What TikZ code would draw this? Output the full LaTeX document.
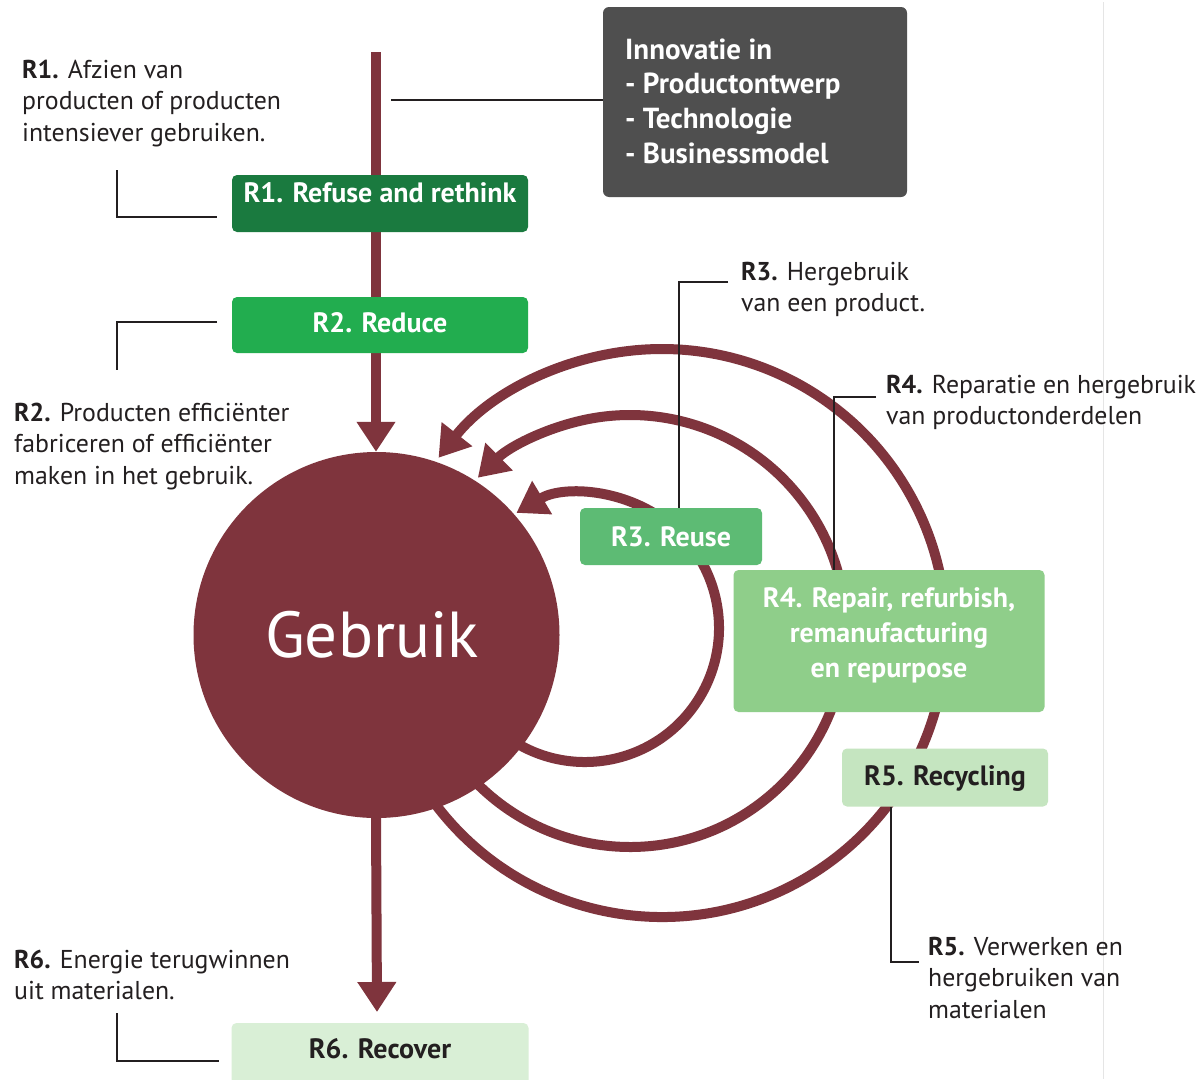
\documentclass[tikz,border=0pt]{standalone}
\usepackage{fontspec}
\setmainfont{PT Sans}
\usetikzlibrary{arrows.meta}
\definecolor{maroonc}{RGB}{127,52,61}
\definecolor{rA}{RGB}{26,122,63}
\definecolor{rB}{RGB}{34,173,79}
\definecolor{rC}{RGB}{93,187,116}
\definecolor{rD}{RGB}{143,206,138}
\definecolor{rE}{RGB}{197,229,192}
\definecolor{rF}{RGB}{217,239,214}
\definecolor{innc}{RGB}{79,79,79}
\definecolor{inkc}{RGB}{35,31,32}
\begin{document}
\begin{tikzpicture}[x=1pt,y=-1pt,
  flow/.style={line width=10pt, draw=maroonc, -{Triangle[length=30pt,width=37pt]}},
  rboxbase/.style={rounded corners=5pt, inner sep=0pt, text=white,
    font=\fontsize{28}{35}\selectfont\bfseries},
  rbox/.style={rboxbase, text height=18pt, text depth=6pt},
  lead/.style={draw=inkc, line width=1.3pt},
  desc/.style={anchor=base west, inner sep=0pt, text=inkc,
    font=\fontsize{25.8}{31.5}\selectfont}]
\useasboundingbox (0,0) rectangle (1201,1079);
\fill[white] (0,0) rectangle (1201,1079);
\draw[gray!20, line width=1pt] (1103,2) -- (1103,1079);

% arcs (centres)
\coordinate (c3) at (585,628);
\coordinate (c4) at (630,631);
\coordinate (c5) at (662,633);
\draw[flow] (c3) ++(125:134) arc[start angle=125, end angle=-120.8, radius=134];
\draw[flow] (c4) ++(140:216) arc[start angle=140, end angle=-134.8, radius=216];
\draw[flow] (c5) ++(147:284) arc[start angle=147, end angle=-141.9, radius=284];

% central circle
\node[circle, fill=maroonc, minimum size=366pt, inner sep=0pt, text=white,
  font=\fontsize{65}{65}\selectfont] (geb) at (376.5,635) {Gebruik\rule{9pt}{0pt}};

% main flow
\coordinate (top) at (376,52);
\coordinate (bot) at (377,1012);
\draw[flow] (top) -- (top |- geb.north);
\draw[flow] (top |- geb.south) -- (bot);

% boxes
\node[rbox, fill=rA, minimum width=296pt, minimum height=57pt, text depth=21pt] (r1) at (380,203.5) {R1. Refuse and rethink};
\node[rbox, fill=rB, minimum width=296pt, minimum height=56pt, text depth=4pt] (r2) at (380,325) {R2. Reduce};
\node[rbox, fill=rC, minimum width=182pt, minimum height=57pt, text height=20pt, text depth=1pt] (r3) at (671,536.5) {R3. Reuse};
\node[rboxbase, fill=rD, minimum width=311pt, minimum height=142pt, align=center] (r4) at (889,641) {R4. Repair, refurbish,\\remanufacturing\\en repurpose\rule[-17pt]{0pt}{17pt}};
\node[rbox, fill=rE, text=inkc, minimum width=206pt, minimum height=58pt, text depth=2pt] (r5) at (945,777.5) {R5. Recycling};
\node[rbox, fill=rF, text=inkc, minimum width=297pt, minimum height=62pt, text depth=10pt] (r6) at (380,1054) {R6. Recover};

% innovation box
\node[rounded corners=6pt, fill=innc, minimum width=304pt, minimum height=190pt] (inn) at (755,102) {};
\node[anchor=base west, inner sep=0pt, text=white, font=\fontsize{29}{34.7}\selectfont\bfseries] (innt) at (625,59)
  {\begin{tabular}[t]{@{}l@{}}Innovatie in\\- Productontwerp\\- Technologie\\- Businessmodel\end{tabular}};
\coordinate (innl) at (391,100);
\draw[lead] (innl) -- (innl -| inn.west);

% leader lines
\draw[lead] (117,170) |- (217,217);
\draw[lead] (217,322) -| (117,370);
\draw[lead] (117,1013) |- (219,1061);
\draw[lead] (728,282) -| (679,508);
\draw[lead] (876,397) -| (834,570);
\draw[lead] (891,807) |- (919,962);

% descriptions
\node[desc] (t1) at (22,78) {\begin{tabular}[t]{@{}l@{}}\textbf{R1.} Afzien van\\producten of producten\\intensiever gebruiken.\end{tabular}};
\node[desc] (t2) at (14,421) {\begin{tabular}[t]{@{}l@{}}\textbf{R2.} Producten efficiënter\\fabriceren of efficiënter\\maken in het gebruik.\end{tabular}};
\node[desc] (t3) at (741,280) {\begin{tabular}[t]{@{}l@{}}\textbf{R3.} Hergebruik\\van een product.\end{tabular}};
\node[desc] (t4) at (886,393) {\begin{tabular}[t]{@{}l@{}}\textbf{R4.} Reparatie en hergebruik\\van productonderdelen\end{tabular}};
\node[desc] (t5) at (928,955) {\begin{tabular}[t]{@{}l@{}}\textbf{R5.} Verwerken en\\hergebruiken van\\materialen\end{tabular}};
\node[desc] (t6) at (14,968) {\begin{tabular}[t]{@{}l@{}}\textbf{R6.} Energie terugwinnen\\uit materialen.\end{tabular}};
\end{tikzpicture}
\end{document}
